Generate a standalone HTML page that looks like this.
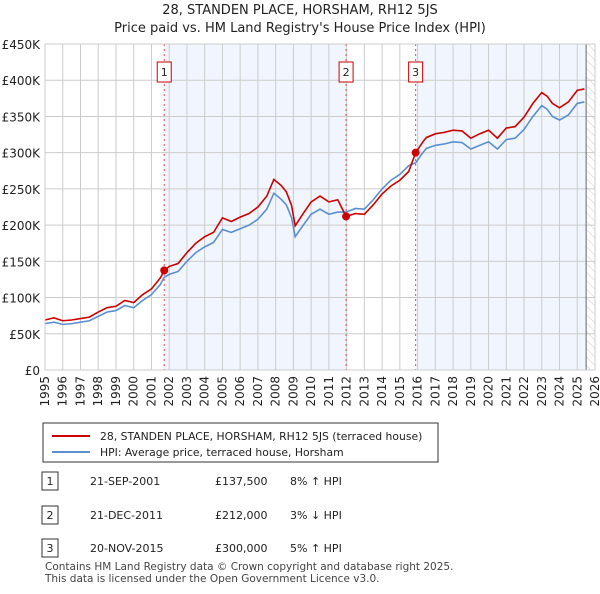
<!DOCTYPE html>
<html><head><meta charset="utf-8">
<style>
body{margin:0;background:#fff;font-family:"DejaVu Sans","Liberation Sans",sans-serif;}
svg text{font-family:"DejaVu Sans","Liberation Sans",sans-serif;}
</style></head>
<body>
<svg id="c" width="600" height="590">
<defs>
<pattern id="hatch" width="6" height="6" patternUnits="userSpaceOnUse" patternTransform="rotate(-45)">
<line x1="0" y1="0" x2="0" y2="6" stroke="#ccc" stroke-width="1"/></pattern>
</defs>
<text x="300" y="14" text-anchor="middle" font-size="13" fill="#222">28, STANDEN PLACE, HORSHAM, RH12 5JS</text>
<text x="300" y="32" text-anchor="middle" font-size="13" fill="#222">Price paid vs. HM Land Registry's House Price Index (HPI)</text>
<g id="plot"></g>
<g>
<rect x="43" y="423" width="395" height="39" fill="#fff" stroke="#333"/>
<line x1="52" y1="436" x2="90" y2="436" stroke="#cc0000" stroke-width="2"/>
<text x="100" y="440" font-size="10.8" fill="#222">28, STANDEN PLACE, HORSHAM, RH12 5JS (terraced house)</text>
<line x1="52" y1="452" x2="90" y2="452" stroke="#5b8fd0" stroke-width="2"/>
<text x="100" y="456" font-size="10.8" fill="#222">HPI: Average price, terraced house, Horsham</text>
</g>
<g font-size="11" fill="#222">
<rect x="42" y="472" width="16" height="18" fill="#fff" stroke="#333"/><text x="50" y="485" text-anchor="middle">1</text>
<text x="90" y="485">21-SEP-2001</text><text x="215" y="485">£137,500</text><text x="290" y="485">8% ↑ HPI</text>
<rect x="42" y="506" width="16" height="18" fill="#fff" stroke="#333"/><text x="50" y="519" text-anchor="middle">2</text>
<text x="90" y="519">21-DEC-2011</text><text x="215" y="519">£212,000</text><text x="290" y="519">3% ↓ HPI</text>
<rect x="42" y="539" width="16" height="18" fill="#fff" stroke="#333"/><text x="50" y="552" text-anchor="middle">3</text>
<text x="90" y="552">20-NOV-2015</text><text x="215" y="552">£300,000</text><text x="290" y="552">5% ↑ HPI</text>
</g>
<text x="45" y="570" font-size="10.5" fill="#444">Contains HM Land Registry data © Crown copyright and database right 2025.</text>
<text x="45" y="582" font-size="10.5" fill="#444">This data is licensed under the Open Government Licence v3.0.</text>
</svg>
<script>
const yTicks=[0,50,100,150,200,250,300,350,400,450];
const yTickLabels=["£0","£50K","£100K","£150K","£200K","£250K","£300K","£350K","£400K","£450K"];
const xYears=[1995,1996,1997,1998,1999,2000,2001,2002,2003,2004,2005,2006,2007,2008,2009,2010,2011,2012,2013,2014,2015,2016,2017,2018,2019,2020,2021,2022,2023,2024,2025,2026];
const dates=[1995.0,1995.5,1996,1996.5,1997,1997.5,1998,1998.5,1999,1999.5,2000,2000.5,2001,2001.5,2001.72,2002,2002.5,2003,2003.5,2004,2004.5,2005,2005.5,2006,2006.5,2007,2007.5,2007.9,2008.3,2008.6,2008.9,2009.1,2009.5,2010,2010.5,2011,2011.5,2011.97,2012.5,2013,2013.5,2014,2014.5,2015,2015.5,2015.89,2016.3,2016.5,2017,2017.5,2018,2018.5,2019,2019.5,2020,2020.5,2021,2021.5,2022,2022.5,2023,2023.3,2023.6,2024,2024.5,2025,2025.4];
const hpi=[64,66,63,64,66,68,74,80,82,89,86,96,104,118,128,132,136,150,162,170,176,194,190,195,200,208,222,244,236,228,210,184,198,215,222,215,218,218,223,222,235,250,262,270,282,286,300,306,310,312,315,314,305,310,315,305,318,320,332,350,365,360,350,345,352,368,370];
const price=[69,72,68,69,71,73,80,86,88,96,93,104,112,127,137.5,143,147,162,175,184,190,210,205,211,216,225,240,263,255,246,227,199,214,232,240,232,235,212,216,215,228,243,254,262,274,300,315,321,326,328,331,330,320,326,331,320,334,336,349,368,383,378,368,362,370,386,388];
const saleDates=[2001.72,2011.97,2015.89];
const salePrices=[137.5,212,300];
const X0=45,X1=595,Y0=370,Y1=44;
const x=d=>X0+(d-1995)/31*(X1-X0);
const y=v=>Y0-v/450*(Y0-Y1);
const ns="http://www.w3.org/2000/svg";
const g=document.getElementById('plot');
function mk(t,a){const e=document.createElementNS(ns,t);for(const k in a)e.setAttribute(k,a[k]);g.appendChild(e);return e;}
let r=mk('rect',{x:x(saleDates[0]),y:Y1,width:x(saleDates[1])-x(saleDates[0]),height:Y0-Y1,fill:'#eef3fc',opacity:0.8});


r=mk('rect',{x:x(saleDates[2]),y:Y1,width:x(2025.5)-x(saleDates[2]),height:Y0-Y1,fill:'#eef3fc',opacity:0.8});


r=mk('rect',{x:x(2025.5),y:Y1,width:X1-x(2025.5),height:Y0-Y1,fill:'url(#hatch)'});


xYears.forEach(yr=>{
 const l=mk('line',{x1:x(yr),x2:x(yr),y1:Y1,y2:Y0,stroke:'#ccc'});
 
 
 const t=mk('text',{x:0,y:0,'font-size':12,fill:'#222','text-anchor':'end',transform:`translate(${x(yr)+4},${Y0+6}) rotate(-90)`});
 t.textContent=yr;
 
 
});
yTicks.forEach((v,i)=>{
 const l=mk('line',{x1:X0,x2:X1,y1:y(v),y2:y(v),stroke:'#ccc'});
 
 
 const t=mk('text',{x:40,y:y(v)+5,'font-size':12,fill:'#222','text-anchor':'end'});
 t.textContent=yTickLabels[i];
 
 
});
let v=mk('line',{x1:x(2025.5),x2:x(2025.5),y1:Y1,y2:Y0,stroke:'#666'});


saleDates.forEach((d,i)=>{
 const l=mk('line',{x1:x(d),x2:x(d),y1:Y1,y2:Y0,stroke:'#e05050','stroke-dasharray':'2,3'});
 
 
 const b=mk('rect',{x:x(d)-7,y:62,width:14,height:20,fill:'#fff',stroke:'#cc0000'});
 
 
 const t=mk('text',{x:x(d),y:76,'font-size':11,fill:'#222','text-anchor':'middle'});
 t.textContent=i+1;
 
 
});
const p1=mk('polyline',{points:dates.map((d,i)=>x(d)+','+y(hpi[i])).join(' '),fill:'none',stroke:'#5b8fd0','stroke-width':1.6});


const p2=mk('polyline',{points:dates.map((d,i)=>x(d)+','+y(price[i])).join(' '),fill:'none',stroke:'#cc0000','stroke-width':1.6});


saleDates.forEach((d,i)=>{
 const c=mk('circle',{cx:x(d),cy:y(salePrices[i]),r:4,fill:'#cc0000'});
 
 
});
const f=mk('rect',{x:X0,y:Y1,width:X1-X0,height:Y0-Y1,fill:'none',stroke:'#ccc'});


</script>
</body></html>
